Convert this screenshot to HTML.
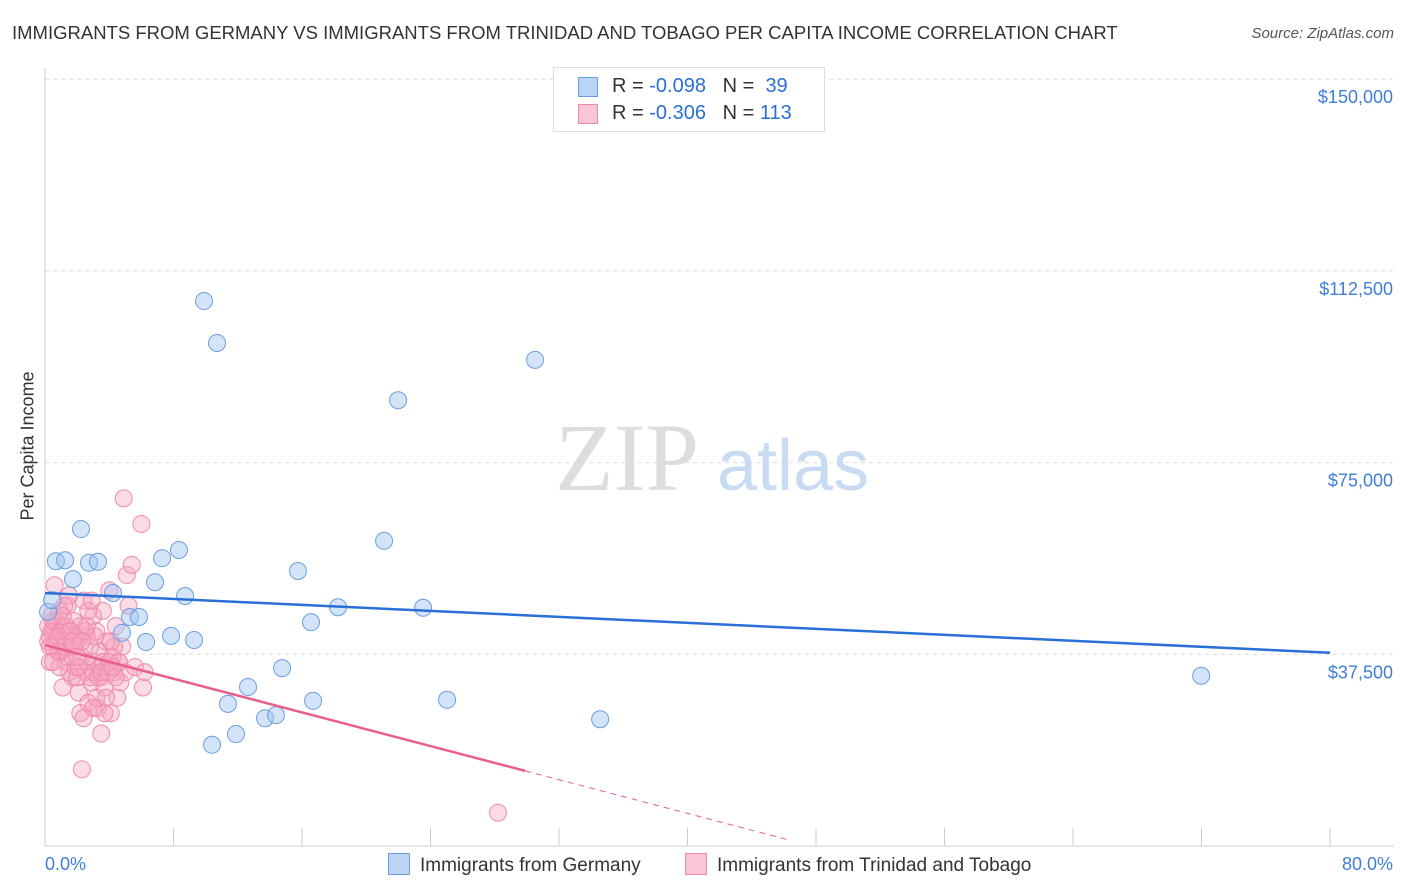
<!DOCTYPE html>
<html><head><meta charset="utf-8"><style>
body{margin:0;background:#fff;font-family:"Liberation Sans",sans-serif;}
#wrap{position:relative;width:1406px;height:892px;overflow:hidden;}
.t{position:absolute;white-space:nowrap;}
</style></head><body>
<div id="wrap">
<div class="t" style="left:12px;top:22px;font-size:18.5px;color:#333;">IMMIGRANTS FROM GERMANY VS IMMIGRANTS FROM TRINIDAD AND TOBAGO PER CAPITA INCOME CORRELATION CHART</div>
<div class="t" style="right:12px;top:25px;font-size:15px;color:#555;font-style:italic;">Source: ZipAtlas.com</div>
<svg id="svg" width="1406" height="892" style="position:absolute;left:0;top:0"></svg>
</div>
<script>
const yTicks=[37500,75000,112500,150000];
const yTickLabels=["$37,500","$75,000","$112,500","$150,000"];
const xLabels=["0.0%","80.0%"];
const germanyX=[0.68,1.25,1.74,2.24,2.74,3.30,4.23,4.79,5.29,5.85,6.29,6.85,7.29,7.85,8.34,8.72,9.28,9.90,10.71,10.40,11.39,11.89,12.64,13.70,14.38,14.76,15.75,16.56,16.69,18.24,21.11,21.98,23.54,25.03,30.51,34.56,71.98,0.19,0.44];
const germanyY=[55.7,55.9,52.2,62.0,55.4,55.6,49.5,41.7,44.8,44.8,39.9,51.6,56.3,41.1,57.9,48.9,40.3,106.6,98.4,19.8,27.8,21.9,31.1,25.0,25.6,34.8,53.8,43.8,28.4,46.7,59.7,87.2,46.6,28.6,95.1,24.8,33.3,45.8,48.1];
const trinidadX=[0.2,0.3,0.4,0.5,0.6,0.7,0.8,0.9,1.0,1.1,1.2,1.3,1.4,1.5,1.6,1.7,1.8,1.9,2.0,2.1,2.2,2.3,2.4,2.5,2.6,2.7,2.8,2.9,3.0,3.1,3.2,3.3,3.4,3.5,3.6,3.7,3.8,3.9,4.0,4.1,4.2,4.3,4.4,4.5,4.6,4.7,4.8,4.9,5.0,5.1,5.2,5.4,5.6,6.0,6.1,6.2,2.3,28.2,3.5,0.3,0.6,0.9,1.1,1.5,1.9,2.2,2.4,2.6,2.8,3.0,3.2,3.4,3.6,4.0,4.3,0.2,0.4,0.5,0.7,0.8,1.0,1.2,1.3,1.4,1.6,1.8,2.0,2.1,2.5,2.7,2.9,3.1,3.3,3.5,3.7,3.9,4.1,4.4,4.6,1.5,1.2,0.8,0.3,1.7,2.0,3.8,2.6,4.2,0.9,1.1,2.3,3.0,0.5];
const trinidadY=[43,41,45,39,42,44,40,46,38,43,41,36,47,42,39,33,44,35,40,30,43,37,48,34,41,28,39,32,45,36,42,27,38,33,46,31,40,35,50,26,37,34,43,29,36,32,39,68,34,53,47,55,35,63,31,34,15,6.5,22,36,51,38,31,34,41,26,25,36,33,34,29,35,36,36,39,40,42,44,40,38,42,39,43,37,42,39,33,35,42,46,48,41,33,34,26,34,40,33,36,49,47,41,39,40,37,29,43,35,35,45,40,27,36];
const germanyFit=[49.5,37.8];
const trinidadFit=[39.3,-0.823];
const X0=45,X1=1330,Y0=846;
const xs=p=>X0+(p/80)*(X1-X0);
const ys=v=>Y0-v/37500*191.7;
const svg=document.getElementById('svg');
const NS='http://www.w3.org/2000/svg';
function mk(tag,at){const e=document.createElementNS(NS,tag);for(const k in at)e.setAttribute(k,at[k]);svg.appendChild(e);return e;}
// grid
yTicks.forEach((t,i)=>{
 const g=mk('line',{x1:45,x2:1394,y1:ys(t),y2:ys(t),stroke:'#ddd','stroke-dasharray':'4,4'});
 
 
 const tx=mk('text',{x:1393,y:ys(t)+24,'text-anchor':'end','font-size':18,fill:'#3f7fd6','font-family':'Liberation Sans'});
 tx.textContent=yTickLabels[i];
 
 
});
let ax=mk('line',{x1:45,x2:45,y1:68,y2:846,stroke:'#ccc'});


let bx=mk('line',{x1:45,x2:1394,y1:846,y2:846,stroke:'#ccc'});


for(let i=0;i<=10;i++){const tk=mk('line',{x1:xs(i*8),x2:xs(i*8),y1:828,y2:846,stroke:'#ccc'});
 
 }
[[0,'start',45],[80,'end',1393]].forEach((a,i)=>{const t=mk('text',{x:a[2],y:870,'text-anchor':a[1],'font-size':18,fill:'#3f7fd6','font-family':'Liberation Sans'});t.textContent=xLabels[i];
 
 });
// watermark
let wm=mk('text',{x:555,y:490,'font-size':96,fill:'#ddd','font-family':'Liberation Serif'});wm.textContent='ZIP';


let wm2=mk('text',{x:717,y:490,'font-size':72,fill:'#c9dbf2','font-family':'Liberation Sans'});wm2.textContent='atlas';


// points
trinidadX.forEach((x,i)=>{const c=mk('circle',{cx:xs(x),cy:ys(trinidadY[i]*1000),r:8.5,fill:'rgba(246,164,190,0.4)',stroke:'#f08aaa','stroke-width':1});
 
 });
germanyX.forEach((x,i)=>{const c=mk('circle',{cx:xs(x),cy:ys(germanyY[i]*1000),r:8.5,fill:'rgba(160,196,240,0.45)',stroke:'#6a9fe0','stroke-width':1});
 
 });
// fits
let l1=mk('line',{x1:xs(0),y1:ys(germanyFit[0]*1000),x2:xs(80),y2:ys(germanyFit[1]*1000),stroke:'#2a6fd6','stroke-width':2.5});


const tf=x=>trinidadFit[0]+trinidadFit[1]*x;
let l2=mk('line',{x1:xs(0),y1:ys(tf(0)*1000),x2:xs(29.9),y2:ys(tf(29.9)*1000),stroke:'#e8608a','stroke-width':2.5});


let l3=mk('line',{x1:xs(29.9),y1:ys(tf(29.9)*1000),x2:xs(46.4),y2:ys(tf(46.4)*1000),stroke:'#e8608a','stroke-width':1,'stroke-dasharray':'6,5'});


</script>
<div class="t" style="left:553px;top:67px;width:270px;height:63px;border:1px solid #ddd;background:#fff;font-size:20px;color:#333;">
 <div style="position:absolute;left:24px;top:9px;width:18px;height:18px;background:#bcd4f4;border:1px solid #6a9fe0;"></div>
 <div style="position:absolute;left:58px;top:7px;">R = <span style="color:#2a6fd6">-0.098</span>&nbsp;&nbsp;&nbsp;N = &nbsp;<span style="color:#2a6fd6">39</span></div>
 <div style="position:absolute;left:24px;top:36px;width:18px;height:18px;background:#f9c6d6;border:1px solid #f08aaa;"></div>
 <div style="position:absolute;left:58px;top:34px;">R = <span style="color:#2a6fd6">-0.306</span>&nbsp;&nbsp;&nbsp;N = <span style="color:#2a6fd6">113</span></div>
</div>
<div class="t" style="left:-37px;top:445px;transform:rotate(-90deg);font-size:18px;color:#333;width:130px;text-align:center;">Per Capita Income</div>
<div class="t" style="left:388px;top:853px;font-size:19px;color:#333;"><span style="display:inline-block;width:20px;height:20px;background:#bcd4f4;border:1px solid #6a9fe0;vertical-align:-4px;margin-right:10px;"></span>Immigrants from Germany</div>
<div class="t" style="left:685px;top:853px;font-size:19px;color:#333;"><span style="display:inline-block;width:20px;height:20px;background:#f9c6d6;border:1px solid #f08aaa;vertical-align:-4px;margin-right:10px;"></span>Immigrants from Trinidad and Tobago</div>
</body></html>
